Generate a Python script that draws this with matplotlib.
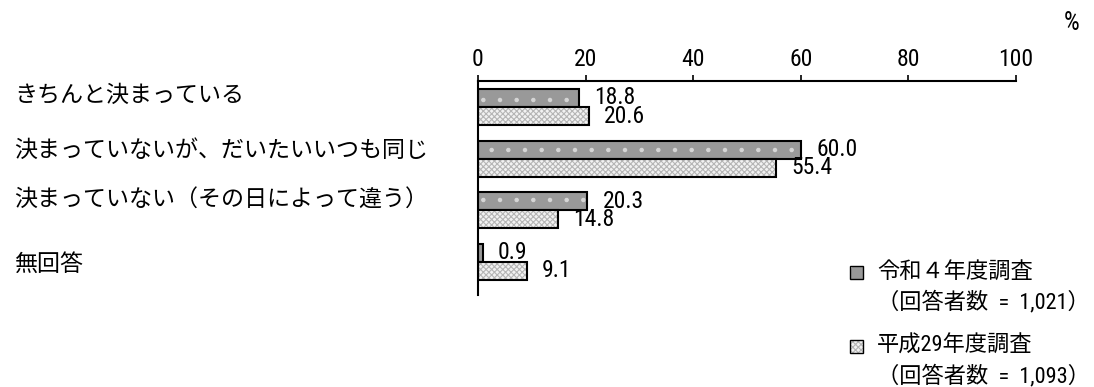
import matplotlib
matplotlib.use("Agg")
import matplotlib.pyplot as plt
from matplotlib import font_manager
from matplotlib.patches import Rectangle
import numpy as np

categories = ["きちんと決まっている",
              "決まっていないが、だいたいいつも同じ",
              "決まっていない（その日によって違う）",
              "無回答"]
series_names = ["令和４年度調査", "平成29年度調査"]
series_notes = ["（回答者数  =  1,021）", "（回答者数  =  1,093）"]
r4_values = [18.8, 60.0, 20.3, 0.9]
h29_values = [20.6, 55.4, 14.8, 9.1]
x_ticks = [0, 20, 40, 60, 80, 100]

avail = {f.name for f in font_manager.fontManager.ttflist}
def pick(*names):
    for n in names:
        if n in avail:
            return n
    return "DejaVu Sans"

CJK = pick("Noto Sans CJK JP", "Noto Sans CJK SC")
NARROW = pick("Liberation Sans Narrow", "Roboto Condensed", "DejaVu Sans Condensed", "Liberation Sans")
plt.rcParams['font.family'] = [CJK, 'DejaVu Sans']
plt.rcParams['hatch.linewidth'] = 0.8

W, H = 1094, 387
fig = plt.figure(figsize=(W / 100, H / 100), dpi=100)
x0, x1 = 478, 1016
ytop, ybot = 81, 295
ax = fig.add_axes([x0 / W, 1 - ybot / H, (x1 - x0) / W, (ybot - ytop) / H])

n = len(categories)
pos = np.arange(n)
bh = 0.35
ax.set_xlim(0, 100)
ax.set_ylim(n - 1 + 0.64, -0.503)

gray_face = "#999999"
gray_dot = "#d6d6d6"
light_face = "#f2f2f2"
light_hatch = "#b5b5b5"

# series 1: gray with light dots
ax.barh(pos - bh / 2, r4_values, height=bh, color=gray_face, edgecolor=gray_dot,
        hatch=".", linewidth=0)
ax.barh(pos - bh / 2, r4_values, height=bh, fill=False, edgecolor="black", linewidth=1.5)
# series 2: light with dense dots
ax.barh(pos + bh / 2, h29_values, height=bh, color=light_face, edgecolor=light_hatch,
        hatch="xxxxxx", linewidth=0)
ax.barh(pos + bh / 2, h29_values, height=bh, fill=False, edgecolor="black", linewidth=1.5)

for i in range(n):
    ax.annotate(f"{r4_values[i]:.1f}", (r4_values[i], pos[i] - bh / 2),
                xytext=(11, 0), textcoords="offset points", va="center", ha="left",
                fontsize=17, family=NARROW, color="black")
    ax.annotate(f"{h29_values[i]:.1f}", (h29_values[i], pos[i] + bh / 2),
                xytext=(11, 0), textcoords="offset points", va="center", ha="left",
                fontsize=17, family=NARROW, color="black")

ax.xaxis.tick_top()
ax.set_xticks(x_ticks)
ax.set_xticklabels([str(t) for t in x_ticks], family=NARROW, fontsize=17)
ax.tick_params(axis="x", direction="out", length=4.5, width=1.2, pad=3)
ax.set_yticks([])
for s in ["right", "bottom"]:
    ax.spines[s].set_visible(False)
ax.spines["top"].set_linewidth(1.5)
ax.spines["left"].set_linewidth(1.5)
ax.patch.set_alpha(0)

# category labels
label_y = [95, 150, 199, 264]
for lab, yy in zip(categories, label_y):
    fig.text(14 / W, 1 - yy / H, lab, fontsize=16.6, va="center", ha="left")

fig.text(1072 / W, 1 - 23 / H, "%", fontsize=18, va="center", ha="center", family=NARROW)

# legend (manual)
leg_y = [(272, 302), (346, 376)]
faces = [(gray_face, gray_dot, "."), (light_face, light_hatch, "xxxxxx")]
for (y1, y2), name, note, (fc, hc, hp) in zip(leg_y, series_names, series_notes, faces):
    sq = 13
    r = Rectangle((850 / W, 1 - (y1 + sq / 2) / H), sq / W, sq / H, transform=fig.transFigure,
                  facecolor=fc, edgecolor=hc, hatch=hp, linewidth=0)
    fig.add_artist(r)
    r2 = Rectangle((850 / W, 1 - (y1 + sq / 2) / H), sq / W, sq / H, transform=fig.transFigure,
                   fill=False, edgecolor="black", linewidth=1.0)
    fig.add_artist(r2)
    fig.text(877 / W, 1 - y1 / H, name, fontsize=16, va="center", ha="left",
             family=[NARROW, CJK])
    fig.text(877 / W, 1 - y2 / H, note, fontsize=16, va="center", ha="left",
             family=[NARROW, CJK])

fig.savefig("out.png", dpi=100)
